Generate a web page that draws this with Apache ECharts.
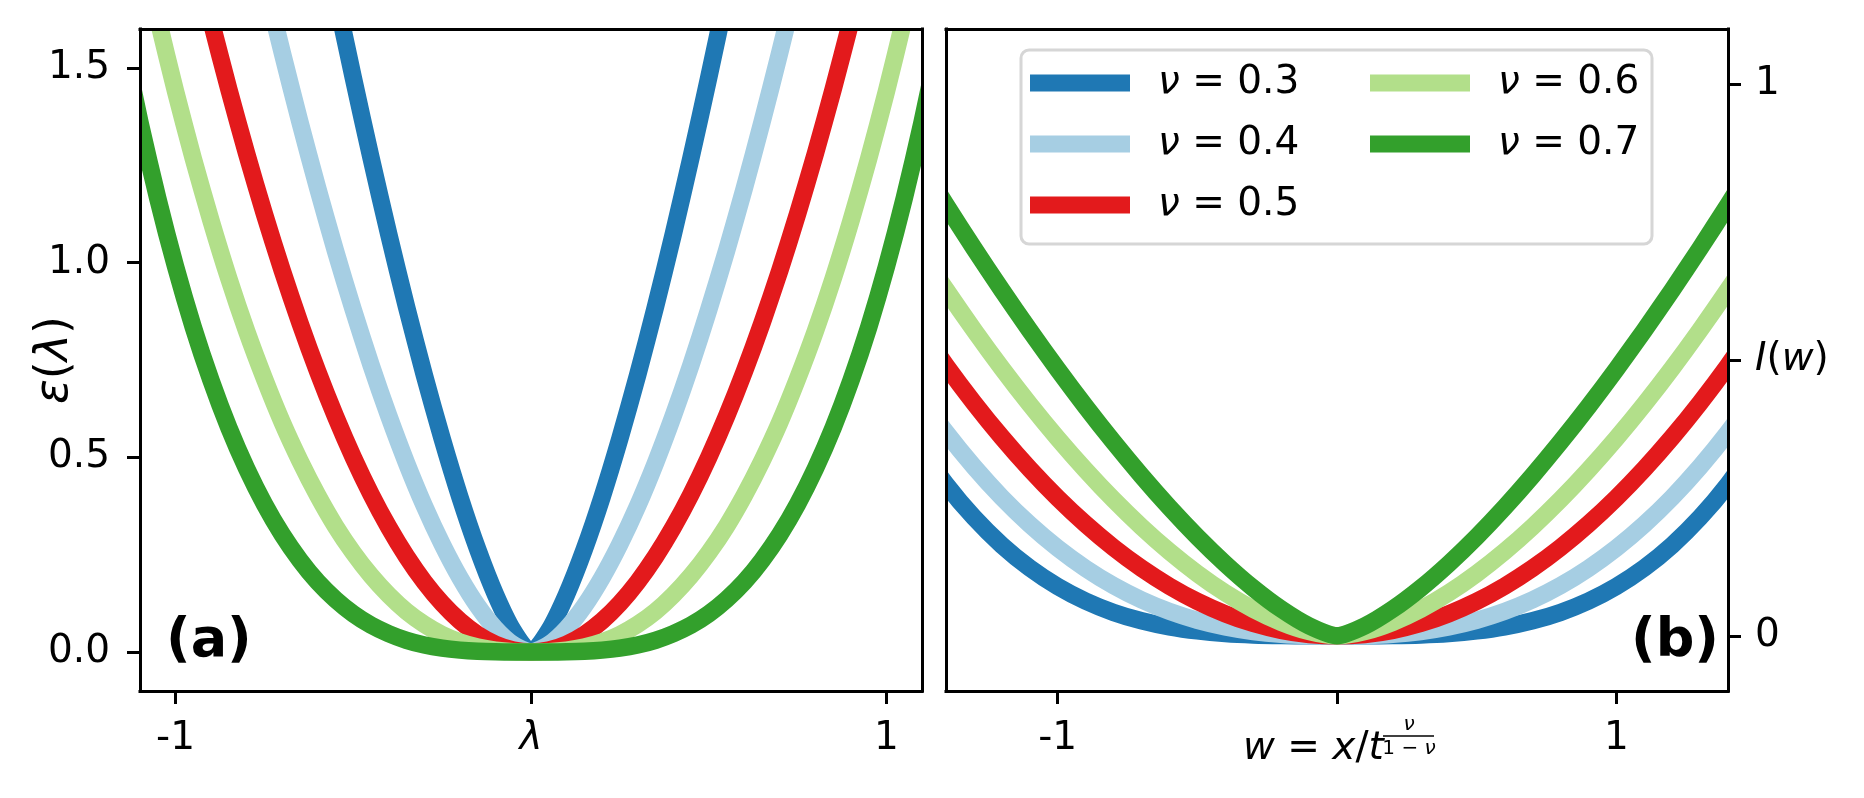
<!DOCTYPE html>
<html>
<head>
<meta charset="utf-8">
<script src="https://cdn.jsdelivr.net/npm/echarts@6/dist/echarts.min.js"></script>
<style>
  html, body { margin: 0; padding: 0; background: #fff; }
  #c { width: 1864px; height: 798px; }
</style>
</head>
<body>
<div id="c"></div>
<script>
// ---------------- data ----------------
const NU_LABELS = ['ν = 0.3', 'ν = 0.4', 'ν = 0.5', 'ν = 0.6', 'ν = 0.7'];

// panel (a): lambda grid and eps(lambda) per nu (curves run past the frame and are clipped)
const LAMBDA = [-1.15,-1.1,-1.05,-1.0,-0.95,-0.9,-0.85,-0.8,-0.75,-0.7,-0.65,-0.6,-0.55,-0.5,-0.45,-0.4,-0.35,-0.3,-0.25,-0.2,-0.15,-0.1,-0.05,
  0,0.05,0.1,0.15,0.2,0.25,0.3,0.35,0.4,0.45,0.5,0.55,0.6,0.65,0.7,0.75,0.8,0.85,0.9,0.95,1.0,1.05,1.1,1.15];
const EPS_03 = [4.847,4.549,4.257,3.970,3.690,3.415,3.148,2.886,2.632,2.385,2.146,1.914,1.690,1.475,1.269,1.072,0.886,0.711,0.548,0.398,0.264,0.148,0.055,
  0,0.055,0.148,0.264,0.398,0.548,0.711,0.886,1.072,1.269,1.475,1.690,1.914,2.146,2.385,2.632,2.886,3.148,3.415,3.690,3.970,4.257,4.549,4.847];
const EPS_04 = [3.522,3.270,3.026,2.790,2.561,2.341,2.128,1.924,1.727,1.540,1.361,1.191,1.030,0.879,0.737,0.606,0.485,0.375,0.277,0.191,0.118,0.060,0.019,
  0,0.019,0.060,0.118,0.191,0.277,0.375,0.485,0.606,0.737,0.879,1.030,1.191,1.361,1.540,1.727,1.924,2.128,2.341,2.561,2.790,3.026,3.270,3.522];
const EPS_05 = [2.645,2.420,2.205,2.000,1.805,1.620,1.445,1.280,1.125,0.980,0.845,0.720,0.605,0.500,0.405,0.320,0.245,0.180,0.125,0.080,0.045,0.020,0.005,
  0,0.005,0.020,0.045,0.080,0.125,0.180,0.245,0.320,0.405,0.500,0.605,0.720,0.845,0.980,1.125,1.280,1.445,1.620,1.805,2.000,2.205,2.420,2.645];
const EPS_06 = [2.042,1.827,1.627,1.440,1.267,1.107,0.959,0.824,0.702,0.590,0.491,0.402,0.323,0.255,0.196,0.146,0.104,0.071,0.045,0.026,0.013,0.005,0.001,
  0,0.001,0.005,0.013,0.026,0.045,0.071,0.104,0.146,0.196,0.255,0.323,0.402,0.491,0.590,0.702,0.824,0.959,1.107,1.267,1.440,1.627,1.827,2.042];
const EPS_07 = [1.577,1.360,1.165,0.990,0.834,0.697,0.576,0.471,0.380,0.302,0.236,0.180,0.135,0.098,0.069,0.047,0.030,0.018,0.010,0.005,0.002,0.0005,0.0000,
  0,0.0000,0.0005,0.002,0.005,0.010,0.018,0.030,0.047,0.069,0.098,0.135,0.180,0.236,0.302,0.380,0.471,0.576,0.697,0.834,0.990,1.165,1.360,1.577];

// panel (b): w grid and I(w) per nu
const W = [-1.5,-1.4,-1.3,-1.2,-1.1,-1.0,-0.9,-0.8,-0.7,-0.6,-0.5,-0.4,-0.3,-0.2,-0.1,0,0.1,0.2,0.3,0.4,0.5,0.6,0.7,0.8,0.9,1.0,1.1,1.2,1.3,1.4,1.5];
const I_03 = [0.3458,0.2747,0.2146,0.1644,0.1230,0.0895,0.0630,0.0425,0.0273,0.0163,0.0089,0.0042,0.0016,0.0004,0.0000,
  0,0.0000,0.0004,0.0016,0.0042,0.0089,0.0163,0.0273,0.0425,0.0630,0.0895,0.1230,0.1644,0.2146,0.2747,0.3458];
const I_04 = [0.4382,0.3687,0.3064,0.2508,0.2018,0.1590,0.1222,0.0910,0.0652,0.0443,0.0281,0.0161,0.0078,0.0028,0.0005,
  0,0.0005,0.0028,0.0078,0.0161,0.0281,0.0443,0.0652,0.0910,0.1222,0.1590,0.2018,0.2508,0.3064,0.3687,0.4382];
const I_05 = [0.5625,0.4900,0.4225,0.3600,0.3025,0.2500,0.2025,0.1600,0.1225,0.0900,0.0625,0.0400,0.0225,0.0100,0.0025,
  0,0.0025,0.0100,0.0225,0.0400,0.0625,0.0900,0.1225,0.1600,0.2025,0.2500,0.3025,0.3600,0.4225,0.4900,0.5625];
const I_06 = [0.7037,0.6273,0.5544,0.4851,0.4196,0.3580,0.3004,0.2468,0.1976,0.1528,0.1128,0.0777,0.0481,0.0245,0.0077,
  0,0.0077,0.0245,0.0481,0.0777,0.1128,0.1528,0.1976,0.2468,0.3004,0.3580,0.4196,0.4851,0.5544,0.6273,0.7037];
const I_07 = [0.8621,0.7811,0.7026,0.6267,0.5535,0.4830,0.4155,0.3512,0.2902,0.2328,0.1794,0.1305,0.0865,0.0485,0.0180,
  0,0.0180,0.0485,0.0865,0.1305,0.1794,0.2328,0.2902,0.3512,0.4155,0.4830,0.5535,0.6267,0.7026,0.7811,0.8621];

// ticks and tick labels
const XA_TICKS = [-1, 0, 1];
const XA_LABELS = ['-1', '{i|λ}', '1'];
const YA_TICKS = [0, 0.5, 1.0, 1.5];
const YA_LABELS = ['0.0', '0.5', '1.0', '1.5'];
const XB_TICKS = [-1, 0, 1];
const XB_LABELS = ['-1', '', '1'];
const YB_TICKS = [0, 0.5, 1];
const YB_LABELS = ['0', '{i|I}({i|w})', '1'];

// ---------------- styling ----------------
const FONT = 'DejaVu Sans';
const FS = 39;
const COLORS = ['#1f78b4', '#a6cee3', '#e31a1c', '#b2df8a', '#33a02c'];
const LW = 17.5;
const G_A = { left: 140, top: 29, width: 782, height: 662 };
const G_B = { left: 946, top: 29, width: 782, height: 662 };
const AXZ = 50;

function pairs(xs, ys) { return xs.map((x, i) => [x, ys[i]]); }
function lookup(ticks, labels) {
  return v => { const i = ticks.findIndex(t => Math.abs(t - v) < 1e-9); return i >= 0 ? labels[i] : ''; };
}
const richI = { i: { fontStyle: 'italic', fontSize: FS, fontFamily: FONT, color: '#000' } };
const labelBase = { fontSize: FS, fontFamily: FONT, color: '#000', rich: richI };
const tickBase = { show: true, length: 13, inside: false, lineStyle: { color: '#000', width: 3 } };
const lineBase = { show: true, onZero: false, lineStyle: { color: '#000', width: 3, cap: 'square' } };

function frameAxis(gridIndex, position) {
  return { type: 'value', gridIndex: gridIndex, position: position, z: AXZ,
    axisLine: lineBase, axisTick: { show: false }, axisLabel: { show: false }, splitLine: { show: false } };
}

const A_SETS = [EPS_03, EPS_04, EPS_05, EPS_06, EPS_07];
const B_SETS = [I_03, I_04, I_05, I_06, I_07];

function makeSeries(k, xs, ys, axis) {
  return {
    name: NU_LABELS[k], type: 'line', xAxisIndex: axis, yAxisIndex: axis,
    data: pairs(xs, ys), showSymbol: false, symbol: 'none', clip: true,
    smooth: 0.25,
    color: COLORS[k], lineStyle: { color: COLORS[k], width: LW, join: 'round', cap: 'butt' },
    emphasis: { disabled: true }, z: 2 + k
  };
}
const series = [];
A_SETS.forEach((ys, k) => series.push(makeSeries(k, LAMBDA, ys, 0)));
B_SETS.forEach((ys, k) => series.push(makeSeries(k, W, ys, 1)));

const legendText = {
  fontSize: FS, fontFamily: FONT, color: '#000', lineHeight: 40, padding: [0, 0, 0, 23],
  rich: { i: { fontStyle: 'italic', fontSize: FS, fontFamily: FONT, color: '#000', lineHeight: 40 } }
};
const legendBase = {
  orient: 'vertical', top: 63, itemWidth: 100, itemHeight: 17, itemGap: 21, padding: 0,
  icon: 'rect', selectedMode: false, textStyle: legendText,
  formatter: n => '{i|ν}' + n.slice(1), z: 20
};

const option = {
  animation: false,
  backgroundColor: '#fff',
  grid: [
    Object.assign({ show: false, containLabel: false }, G_A),
    Object.assign({ show: false, containLabel: false }, G_B)
  ],
  xAxis: [
    { type: 'value', gridIndex: 0, position: 'bottom', min: -1.1, max: 1.1, z: AXZ,
      axisLine: lineBase, splitLine: { show: false },
      axisTick: Object.assign({ customValues: XA_TICKS }, tickBase),
      axisLabel: Object.assign({ customValues: XA_TICKS, margin: 28, formatter: lookup(XA_TICKS, XA_LABELS) }, labelBase) },
    { type: 'value', gridIndex: 1, position: 'bottom', min: -1.4, max: 1.4, z: AXZ,
      axisLine: lineBase, splitLine: { show: false },
      axisTick: Object.assign({ customValues: XB_TICKS }, tickBase),
      axisLabel: Object.assign({ customValues: XB_TICKS, margin: 28, formatter: lookup(XB_TICKS, XB_LABELS) }, labelBase) },
    frameAxis(0, 'top'),
    frameAxis(1, 'top')
  ],
  yAxis: [
    { type: 'value', gridIndex: 0, position: 'left', min: -0.1, max: 1.6, z: AXZ,
      axisLine: lineBase, splitLine: { show: false },
      axisTick: Object.assign({ customValues: YA_TICKS }, tickBase),
      axisLabel: Object.assign({ customValues: YA_TICKS, margin: 30, formatter: lookup(YA_TICKS, YA_LABELS) }, labelBase),
      name: '{i|ε}{n|(}{i|λ}{n|)}', nameLocation: 'middle', nameGap: 62, nameMoveOverlap: false,
      nameTextStyle: { fontSize: 46, fontFamily: FONT, color: '#000',
        rich: { i: { fontStyle: 'italic', fontSize: 46, fontFamily: FONT, color: '#000' },
                n: { fontSize: 46, fontFamily: FONT, color: '#000' } } } },
    { type: 'value', gridIndex: 1, position: 'right', min: -0.1, max: 1.1, z: AXZ,
      axisLine: lineBase, splitLine: { show: false },
      axisTick: Object.assign({ customValues: YB_TICKS }, tickBase),
      axisLabel: Object.assign({ customValues: YB_TICKS, margin: 27, formatter: lookup(YB_TICKS, YB_LABELS) }, labelBase) },
    frameAxis(0, 'right'),
    frameAxis(1, 'left')
  ],
  legend: [
    Object.assign({ left: 1030, data: NU_LABELS.slice(0, 3) }, legendBase),
    Object.assign({ left: 1370, data: NU_LABELS.slice(3) }, legendBase)
  ],
  series: series
};

const chart = echarts.init(document.getElementById('c'), null, { renderer: 'canvas' });
chart.setOption(option);

// white masks just outside each plot frame, so the thick curves stop at the frame
function masks(g) {
  const m = 12, L = g.left, T = g.top, R = g.left + g.width, B = g.top + g.height;
  const st = { fill: '#fff', stroke: null };
  return [
    { type: 'rect', z: 40, silent: true, shape: { x: L - m, y: T - m, width: g.width + 2 * m, height: m }, style: st },
    { type: 'rect', z: 40, silent: true, shape: { x: L - m, y: B, width: g.width + 2 * m, height: m }, style: st },
    { type: 'rect', z: 40, silent: true, shape: { x: L - m, y: T - m, width: m, height: g.height + 2 * m }, style: st },
    { type: 'rect', z: 40, silent: true, shape: { x: R, y: T - m, width: m, height: g.height + 2 * m }, style: st }
  ];
}

// x label of panel (b), centred on its w = 0 tick through the axis scale
const cx = chart.convertToPixel({ xAxisIndex: 1 }, 0);
chart.setOption({
  graphic: masks(G_A).concat(masks(G_B)).concat([
    { type: 'rect', z: 10, shape: { x: 1021, y: 50, width: 631, height: 194, r: 8 },
      style: { fill: 'rgba(255,255,255,0.8)', stroke: '#d6d6d6', lineWidth: 3 } },
    { type: 'text', z: 30, x: 166, y: 642,
      style: { text: '(a)', font: 'bold 54px "DejaVu Sans"', fill: '#000', align: 'left', verticalAlign: 'middle' } },
    { type: 'text', z: 30, x: 1719, y: 642,
      style: { text: '(b)', font: 'bold 54px "DejaVu Sans"', fill: '#000', align: 'right', verticalAlign: 'middle' } },
    { type: 'text', z: 60, x: cx - 94, y: 749,
      style: { text: '{i|w} = {i|x}/{i|t}', fontSize: FS, fontFamily: FONT, fill: '#000', align: 'left', verticalAlign: 'middle',
        rich: { i: { fontStyle: 'italic', fontSize: FS, fontFamily: FONT, fill: '#000' } } } },
    { type: 'text', z: 60, x: cx + 72, y: 725,
      style: { text: 'ν', fontSize: 20, fontStyle: 'italic', fontFamily: FONT, fill: '#000', align: 'center', verticalAlign: 'middle' } },
    { type: 'line', z: 60, shape: { x1: cx + 46, y1: 736, x2: cx + 97, y2: 736 }, style: { stroke: '#000', lineWidth: 1.5 } },
    { type: 'text', z: 60, x: cx + 72, y: 749,
      style: { text: '1 − {i|ν}', fontSize: 20, fontFamily: FONT, fill: '#000', align: 'center', verticalAlign: 'middle',
        rich: { i: { fontStyle: 'italic', fontSize: 20, fontFamily: FONT, fill: '#000' } } } }
  ])
});
</script>
</body>
</html>
